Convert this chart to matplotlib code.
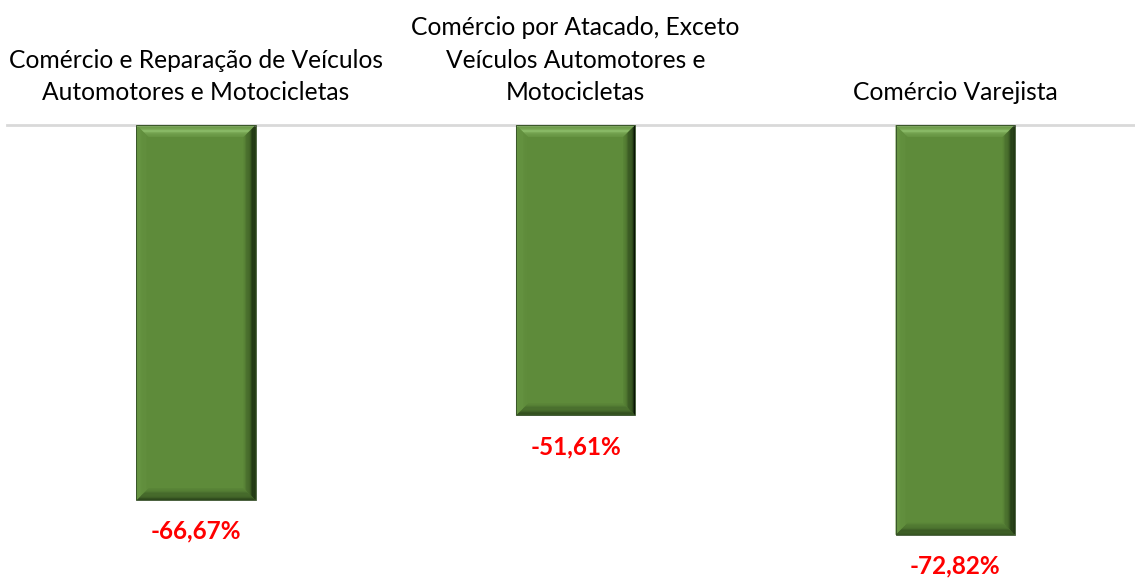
import numpy as np
import matplotlib.pyplot as plt
from matplotlib.patches import Polygon

categorias = [
    "Comércio e Reparação de Veículos\nAutomotores e Motocicletas",
    "Comércio por Atacado, Exceto\nVeículos Automotores e\nMotocicletas",
    "Comércio Varejista",
]
variacao = [-66.67, -51.61, -72.82]
rotulos = ["-66,67%", "-51,61%", "-72,82%"]

W, H, DPI = 1135, 578, 100
plt.rcParams['font.family'] = ['Lato', 'DejaVu Sans']

fig = plt.figure(figsize=(W / DPI, H / DPI), dpi=DPI)
ax_left, ax_top = 7, 125
ax = fig.add_axes([ax_left / W, 0, 1 - ax_left / W, 1 - ax_top / H])

x0, x1 = -0.498, 2.474
y0, y1 = -80.5, 0
ax.set_xlim(x0, x1)
ax.set_ylim(y0, y1)

face = np.array([94, 139, 58]) / 255
bars = ax.bar(range(len(variacao)), variacao, width=0.314, color=face, zorder=2)

# bevel effect, drawn in pixel sizes converted to data units
px_x = (x1 - x0) / (W - ax_left)
px_y = (y1 - y0) / (H - ax_top)
bev = 12
n = 10


def mix(c1, c2, t):
    return tuple(np.array(c1) * (1 - t) + np.array(c2) * t)


top_light = np.array([140, 188, 105]) / 255
right_dark = np.array([8, 20, 4]) / 255
bottom_dark = np.array([45, 72, 28]) / 255
left_col = np.array([104, 150, 68]) / 255

for b in bars:
    xl = b.get_x()
    xr = xl + b.get_width()
    yt = 0
    yb = b.get_height()
    bx, by = bev * px_x, bev * px_y
    for k in range(n):
        t0, t1 = k / n, (k + 1) / n
        # top band
        ax.add_patch(Polygon([(xl + bx * t0, yt - by * t0), (xr - bx * t0, yt - by * t0),
                              (xr - bx * t1, yt - by * t1), (xl + bx * t1, yt - by * t1)],
                             closed=True, color=mix(face, top_light, max(0, 1 - abs(t0 - 0.45) * 1.8)),
                             lw=0, zorder=3))
        # right band
        ax.add_patch(Polygon([(xr - bx * t0, yt - by * t0), (xr - bx * t0, yb + by * t0),
                              (xr - bx * t1, yb + by * t1), (xr - bx * t1, yt - by * t1)],
                             closed=True, color=mix(right_dark, face, t0 ** 0.7), lw=0, zorder=3))
        # bottom band
        ax.add_patch(Polygon([(xl + bx * t0, yb + by * t0), (xr - bx * t0, yb + by * t0),
                              (xr - bx * t1, yb + by * t1), (xl + bx * t1, yb + by * t1)],
                             closed=True, color=mix(bottom_dark, face, t0), lw=0, zorder=3))
        # left band
        ax.add_patch(Polygon([(xl + bx * t0, yt - by * t0), (xl + bx * t0, yb + by * t0),
                              (xl + bx * t1, yb + by * t1), (xl + bx * t1, yt - by * t1)],
                             closed=True, color=mix(left_col, face, t0), lw=0, zorder=3))
    ax.add_patch(Polygon([(xl, yt), (xr, yt), (xr, yb), (xl, yb)], closed=True,
                         fill=False, edgecolor=(0.2, 0.3, 0.15), lw=0.6, zorder=4))

for i, (cat, v, r) in enumerate(zip(categorias, variacao, rotulos)):
    ax.annotate(cat, xy=(i, 0), xytext=(0, 25 * 72 / DPI), textcoords='offset points',
                ha='center', va='baseline', fontsize=17.7, color='black',
                linespacing=1.5, annotation_clip=False)
    ax.annotate(r, xy=(i, v), xytext=(0, -31 * 72 / DPI), textcoords='offset points',
                ha='center', va='center', fontsize=17.5, fontweight='bold', color='#FF0000',
                annotation_clip=False)

for s in ['left', 'right', 'bottom']:
    ax.spines[s].set_visible(False)
ax.spines['top'].set_color('#D9D9D9')
ax.spines['top'].set_linewidth(2)
ax.set_xticks([])
ax.set_yticks([])

fig.savefig('out.png', dpi=DPI)
